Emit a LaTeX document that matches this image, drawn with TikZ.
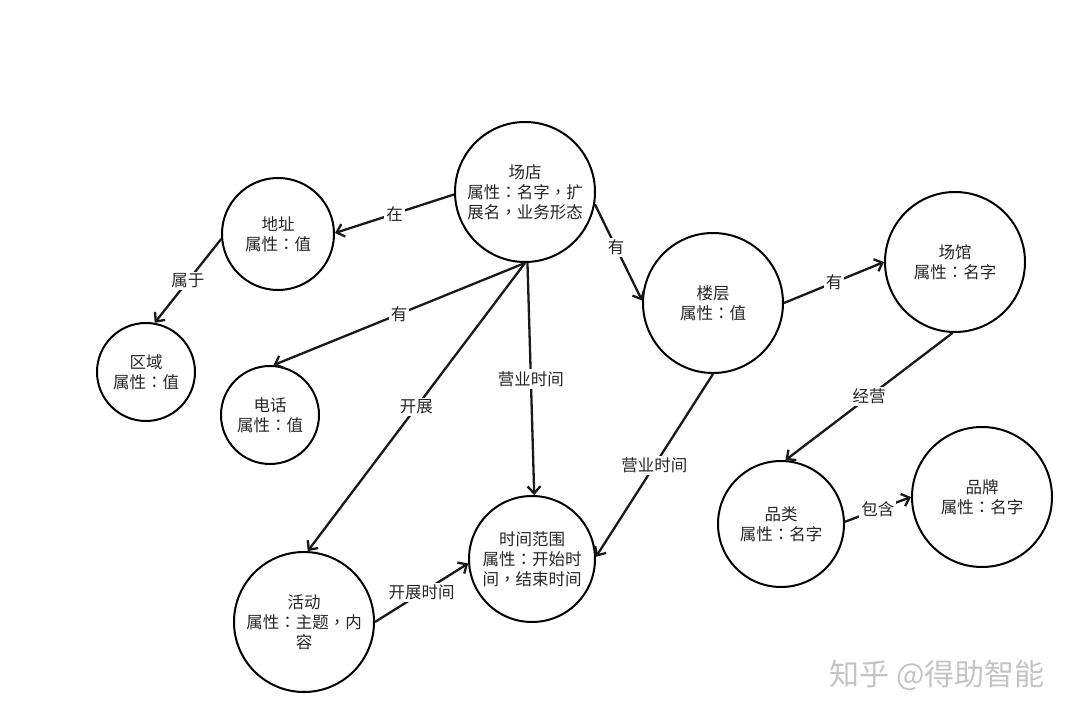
\documentclass[tikz,border=0pt]{standalone}
\usepackage{fontspec}
\setmainfont{Noto Sans CJK SC}
\newfontfamily\tcf{Noto Sans CJK TC}
\newcommand{\ccol}{{\tcf ：}}
\newcommand{\ccom}{{\tcf ，}}
\usetikzlibrary{arrows.meta}
\definecolor{txt}{HTML}{262626}
\definecolor{wm}{HTML}{C4C4C4}
\begin{document}
\begin{tikzpicture}[x=1pt,y=-1pt,
  ent/.style={circle,draw=black,line width=2pt,fill=white,inner sep=0pt,align=center,text=txt,font=\fontsize{16.5}{20}\selectfont},
  rel/.style={line width=2.3pt,draw=black!90,-{Straight Barb[length=7pt,width=13pt]}},
  lbl/.style={fill=white,inner sep=2pt,text=txt,font=\fontsize{16.5}{20}\selectfont}]
\useasboundingbox[fill=white] (0,0) rectangle (1080,719);
\node[ent,minimum size=140pt] (dian) at (525,192) {场店\\属性\ccol 名字\ccom 扩\\展名\ccom 业务形态};
\node[ent,minimum size=112pt] (dizhi) at (278,234) {地址\\属性\ccol 值};
\node[ent,minimum size=98pt] (quyu) at (146,372) {区域\\属性\ccol 值};
\node[ent,minimum size=98pt] (dianhua) at (270,415) {电话\\属性\ccol 值};
\node[ent,minimum size=140pt] (louceng) at (713,303) {楼层\\属性\ccol 值};
\node[ent,minimum size=140pt] (changguan) at (955,262) {场馆\\属性\ccol 名字};
\node[ent,minimum size=126pt] (shijian) at (532,559) {时间范围\\属性\ccol 开始时\\间\ccom 结束时间};
\node[ent,minimum size=140pt] (huodong) at (304,622) {活动\\属性\ccol 主题\ccom 内\\容};
\node[ent,minimum size=126pt] (pinlei) at (781,524) {品类\\属性\ccol 名字};
\node[ent,minimum size=140pt] (pinpai) at (982,497) {品牌\\属性\ccol 名字};

\draw[rel] (dian.182) -- node[lbl] {在} (dizhi.1);
\draw[rel] (dizhi.185) -- node[lbl] {属于} (quyu.80);
\draw[rel] (dian.-90) -- node[lbl] {有} (dianhua.86);
\draw[rel] (dian.-90) -- node[lbl] {开展} (huodong.87);
\draw[rel] (dian.-88) -- node[lbl] {营业时间} (shijian.88);
\draw[rel] (dian.-10) -- node[lbl,pos=0.45] {有} (louceng.178);
\draw[rel] (louceng.0) -- node[lbl] {有} (changguan.180);
\draw[rel] (louceng.-90) -- node[lbl] {营业时间} (shijian.2);
\draw[rel] (changguan.-92) -- node[lbl] {经营} (pinlei.86);
\draw[rel] (pinlei.2) -- node[lbl] {包含} (pinpai.180);
\draw[rel] (huodong.0) -- node[lbl] {开展时间} (shijian.184);

\node[text=wm,font=\fontsize{30}{32}\selectfont,inner sep=0pt] (watermark) at (937,675) {知乎 @得助智能};
\end{tikzpicture}
\end{document}
